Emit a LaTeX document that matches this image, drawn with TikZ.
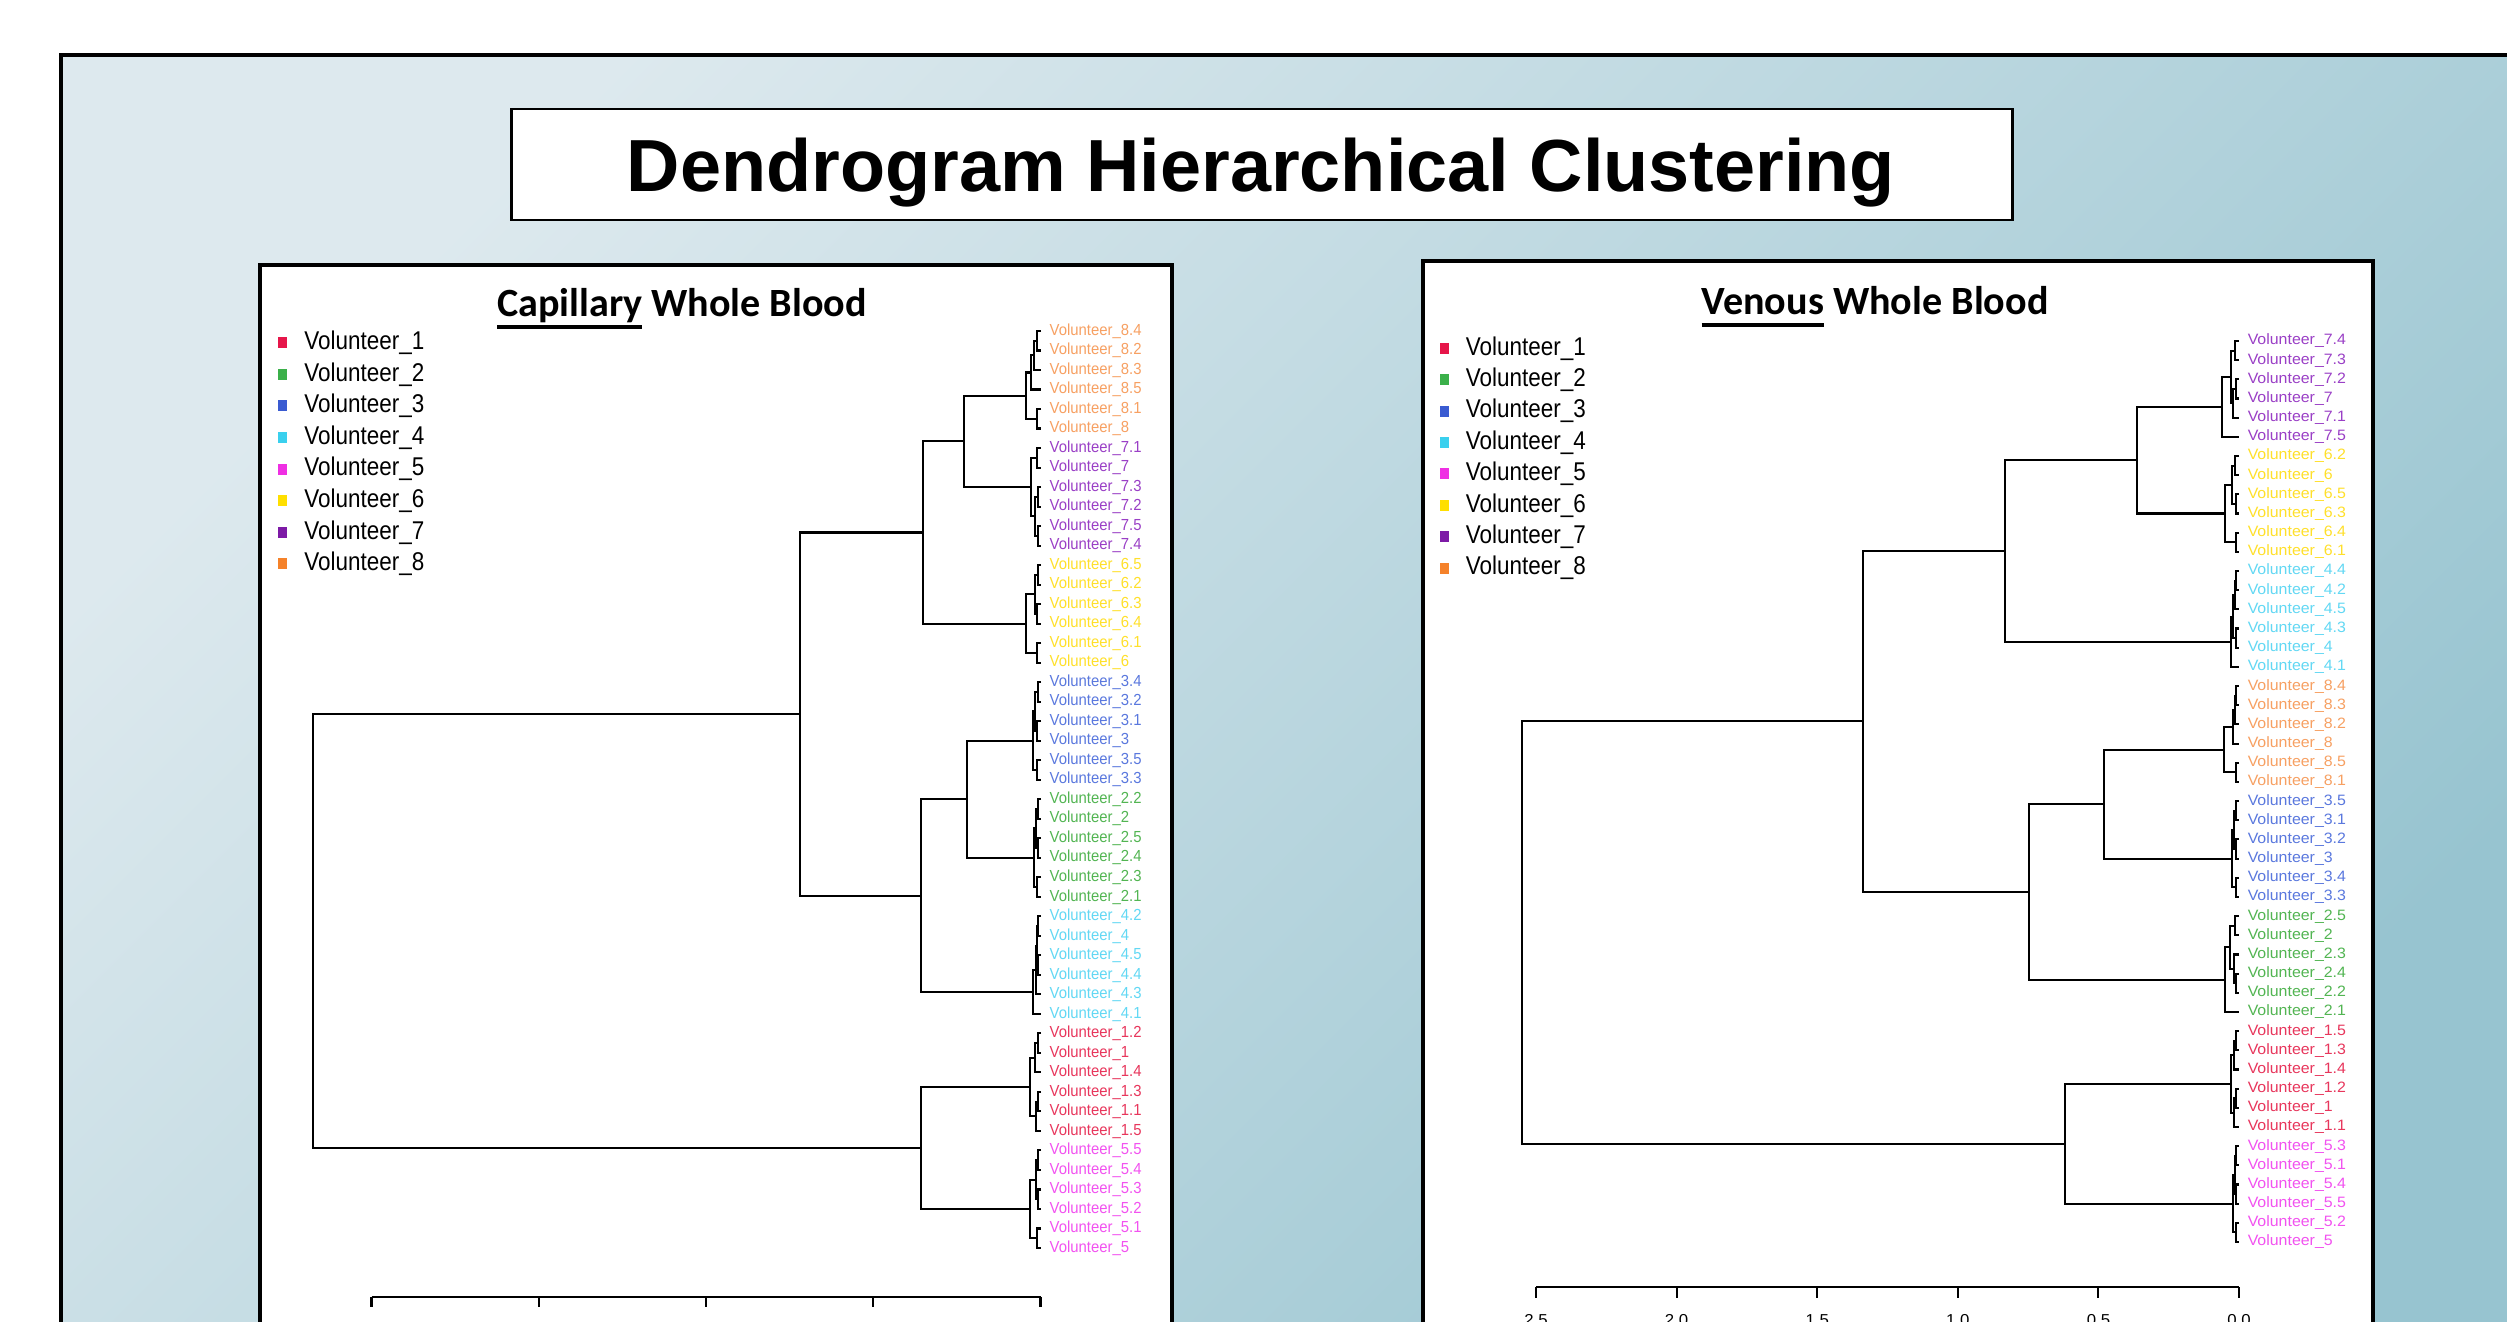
\documentclass[tikz,border=0pt]{standalone}
\usepackage{fontspec}
\setmainfont{Liberation Sans}
\newfontfamily\calibri{Carlito}
\newfontfamily\keyfont[FakeStretch=0.875]{Liberation Sans}
\newfontfamily\capfont[FakeStretch=0.93]{Liberation Sans}
\newfontfamily\venfont[FakeStretch=1.06]{Liberation Sans}
\usetikzlibrary{calc,positioning}

\definecolor{bgtop}{HTML}{DDE9EE}
\definecolor{bgbot}{HTML}{97C4D0}
\definecolor{vol1}{HTML}{E6164A}
\definecolor{vol2}{HTML}{3BB04A}
\definecolor{vol3}{HTML}{3A5BD1}
\definecolor{vol4}{HTML}{3AD0EE}
\definecolor{vol5}{HTML}{EF2FE3}
\definecolor{vol6}{HTML}{FFDF00}
\definecolor{vol7}{HTML}{7D1AA6}
\definecolor{vol8}{HTML}{F5822A}
\definecolor{lab1}{HTML}{E8365C}
\definecolor{lab2}{HTML}{52B552}
\definecolor{lab3}{HTML}{5A78DE}
\definecolor{lab4}{HTML}{62D8F4}
\definecolor{lab5}{HTML}{F252F0}
\definecolor{lab6}{HTML}{FFE02A}
\definecolor{lab7}{HTML}{9A3FC6}
\definecolor{lab8}{HTML}{F7A062}

\newsavebox\ubox
\newcommand{\uword}[1]{\sbox\ubox{#1}\rlap{\rule[-0.29em]{\wd\ubox}{0.09em}}\usebox\ubox}

% one dendrogram join: name, x of the join, upper child, lower child
\newcommand{\merge}[4]{%
  \coordinate (#1m) at ($(#3)!.5!(#4)$);
  \coordinate (#1) at (#2,0 |- #1m);
  \draw[branch] (#3) -| (#1) |- (#4);}

\tikzset{
  branch/.style={line width=0.6pt},
  panel/.style={draw, line width=0.9pt, fill=white},
  keybox/.style={fill=#1, minimum width=0.09cm, minimum height=0.11cm, inner sep=0pt},
  keytext/.style={anchor=west, inner sep=0pt, font=\keyfont\fontsize{7.3}{8}\selectfont},
  capleaf/.style={anchor=west, inner sep=0pt, font=\capfont\fontsize{4.55}{5}\selectfont},
  venleaf/.style={anchor=west, inner sep=0pt, font=\venfont\fontsize{4.27}{5}\selectfont},
}

\begin{document}
\begin{tikzpicture}[x=0.01cm, y=-0.01cm]
\useasboundingbox (0,0) rectangle (2507,1322);
\draw[line width=0.9pt, top color=bgtop, bottom color=bgbot, shading angle=45] (61,55) rectangle (2540,1360);

\node[draw, line width=0.8pt, fill=white, minimum width=15cm, minimum height=1.11cm, inner sep=0pt] (titlebox) at (1262,164.5) {};
\node[anchor=base, inner sep=0pt, font=\bfseries\fontsize{21}{25}\selectfont] (maintitle) at (1261,192) {Dendrogram Hierarchical Clustering};

\draw[panel] (260,265) rectangle (1172,1400);
\draw[panel] (1423,261) rectangle (2373,1400);

\node[anchor=base, inner sep=0pt, font=\calibri\bfseries\fontsize{11.4}{13}\selectfont] (captitle) at (682,317) {\uword{Capillary} Whole Blood};
\node[anchor=base, inner sep=0pt, font=\calibri\bfseries\fontsize{11.4}{13}\selectfont] (ventitle) at (1875,315) {\uword{Venous} Whole Blood};

% legends
\foreach \k in {1,...,8}
{
    \node[keybox=vol\k] (CK\k) at (282,{342.7+31.6*(\k-1)}) {};
    \node[keytext, right=0.165cm of CK\k] (CKT\k) {Volunteer\_\k};
    \node[keybox=vol\k] (VK\k) at (1444,{348.3+31.4*(\k-1)}) {};
    \node[keytext, right=0.16cm of VK\k] (VKT\k) {Volunteer\_\k};
}

% capillary leaves
\foreach \lab/\col [count=\i from 0] in {8.4/lab8,8.2/lab8,8.3/lab8,8.5/lab8,8.1/lab8,8/lab8,7.1/lab7,7/lab7,7.3/lab7,7.2/lab7,7.5/lab7,7.4/lab7,6.5/lab6,6.2/lab6,6.3/lab6,6.4/lab6,6.1/lab6,6/lab6,3.4/lab3,3.2/lab3,3.1/lab3,3/lab3,3.5/lab3,3.3/lab3,2.2/lab2,2/lab2,2.5/lab2,2.4/lab2,2.3/lab2,2.1/lab2,4.2/lab4,4/lab4,4.5/lab4,4.4/lab4,4.3/lab4,4.1/lab4,1.2/lab1,1/lab1,1.4/lab1,1.3/lab1,1.1/lab1,1.5/lab1,5.5/lab5,5.4/lab5,5.3/lab5,5.2/lab5,5.1/lab5,5/lab5}
{
    \coordinate (C\i) at (1041,{331+19.51*\i});
    \node[capleaf, text=\col, right=0.08cm of C\i] (CL\i) {Volunteer\_\lab};
}

% venous leaves
\foreach \lab/\col [count=\i from 0] in {7.4/lab7,7.3/lab7,7.2/lab7,7/lab7,7.1/lab7,7.5/lab7,6.2/lab6,6/lab6,6.5/lab6,6.3/lab6,6.4/lab6,6.1/lab6,4.4/lab4,4.2/lab4,4.5/lab4,4.3/lab4,4/lab4,4.1/lab4,8.4/lab8,8.3/lab8,8.2/lab8,8/lab8,8.5/lab8,8.1/lab8,3.5/lab3,3.1/lab3,3.2/lab3,3/lab3,3.4/lab3,3.3/lab3,2.5/lab2,2/lab2,2.3/lab2,2.4/lab2,2.2/lab2,2.1/lab2,1.5/lab1,1.3/lab1,1.4/lab1,1.2/lab1,1/lab1,1.1/lab1,5.3/lab5,5.1/lab5,5.4/lab5,5.5/lab5,5.2/lab5,5/lab5}
{
    \coordinate (V\i) at (2239,{341+19.17*\i});
    \node[venleaf, text=\col, right=0.08cm of V\i] (VL\i) {Volunteer\_\lab};
}

% capillary tree
\merge{Cp1}{1037}{C0}{C1}
\merge{Cp2}{1034}{Cp1}{C2}
\merge{Cp3}{1031}{Cp2}{C3}
\merge{Cp4}{1037}{C4}{C5}
\merge{Cg8}{1026}{Cp3}{Cp4}
\merge{Cq1}{1037}{C6}{C7}
\merge{Cq2}{1038}{C8}{C9}
\merge{Cq3}{1038}{C10}{C11}
\merge{Cq4}{1035}{Cq2}{Cq3}
\merge{Cg7}{1031}{Cq1}{Cq4}
\merge{Cg87}{964}{Cg8}{Cg7}
\merge{Cr1}{1038}{C12}{C13}
\merge{Cr2}{1037}{C14}{C15}
\merge{Cr3}{1035}{Cr1}{Cr2}
\merge{Cr4}{1037}{C16}{C17}
\merge{Cg6}{1026}{Cr3}{Cr4}
\merge{Cg876}{923}{Cg87}{Cg6}
\merge{Cs1}{1038}{C18}{C19}
\merge{Cs2}{1037}{C20}{C21}
\merge{Cs3}{1035}{Cs1}{Cs2}
\merge{Cs4}{1037}{C22}{C23}
\merge{Cg3}{1033}{Cs3}{Cs4}
\merge{Ct1}{1038}{C24}{C25}
\merge{Ct2}{1038}{C26}{C27}
\merge{Ct3}{1036}{Ct1}{Ct2}
\merge{Ct4}{1037}{C28}{C29}
\merge{Cg2}{1034}{Ct3}{Ct4}
\merge{Cg32}{967}{Cg3}{Cg2}
\merge{Cu1}{1038}{C30}{C31}
\merge{Cu2}{1038}{C32}{C33}
\merge{Cu3}{1037}{Cu1}{Cu2}
\merge{Cu4}{1036}{Cu3}{C34}
\merge{Cg4}{1033}{Cu4}{C35}
\merge{Cg324}{921}{Cg32}{Cg4}
\merge{Ctop}{800}{Cg876}{Cg324}
\merge{Cv1}{1038}{C36}{C37}
\merge{Cv2}{1035}{Cv1}{C38}
\merge{Cv3}{1038}{C39}{C40}
\merge{Cv4}{1036}{Cv3}{C41}
\merge{Cg1}{1030}{Cv2}{Cv4}
\merge{Cw1}{1038}{C42}{C43}
\merge{Cw2}{1038}{C44}{C45}
\merge{Cw3}{1036}{Cw1}{Cw2}
\merge{Cw4}{1037}{C46}{C47}
\merge{Cg5}{1030}{Cw3}{Cw4}
\merge{Cg15}{921}{Cg1}{Cg5}
\merge{Croot}{313}{Ctop}{Cg15}

% venous tree
\merge{Va1}{2235}{V0}{V1}
\merge{Va2}{2236}{V2}{V3}
\merge{Va3}{2233}{Va2}{V4}
\merge{Va4}{2231}{Va1}{Va3}
\merge{Vg7}{2222}{Va4}{V5}
\merge{Vb1}{2235}{V6}{V7}
\merge{Vb2}{2236}{V8}{V9}
\merge{Vb3}{2232}{Vb1}{Vb2}
\merge{Vb4}{2236}{V10}{V11}
\merge{Vg6}{2225}{Vb3}{Vb4}
\merge{Vg76}{2137}{Vg7}{Vg6}
\merge{Vc1}{2236}{V12}{V13}
\merge{Vc2}{2235}{Vc1}{V14}
\merge{Vc3}{2236}{V15}{V16}
\merge{Vc4}{2233}{Vc2}{Vc3}
\merge{Vg4}{2231}{Vc4}{V17}
\merge{Vg764}{2005}{Vg76}{Vg4}
\merge{Vd1}{2236}{V18}{V19}
\merge{Vd2}{2235}{Vd1}{V20}
\merge{Vd3}{2233}{Vd2}{V21}
\merge{Vd4}{2236}{V22}{V23}
\merge{Vg8}{2224}{Vd3}{Vd4}
\merge{Ve1}{2236}{V24}{V25}
\merge{Ve2}{2236}{V26}{V27}
\merge{Ve3}{2234}{Ve1}{Ve2}
\merge{Ve4}{2236}{V28}{V29}
\merge{Vg3}{2232}{Ve3}{Ve4}
\merge{Vg83}{2104}{Vg8}{Vg3}
\merge{Vf1}{2235}{V30}{V31}
\merge{Vf2}{2236}{V33}{V34}
\merge{Vf3}{2234}{V32}{Vf2}
\merge{Vf4}{2230}{Vf1}{Vf3}
\merge{Vg2}{2225}{Vf4}{V35}
\merge{Vg832}{2029}{Vg83}{Vg2}
\merge{Vtop}{1863}{Vg764}{Vg832}
\merge{Vh1}{2236}{V36}{V37}
\merge{Vh2}{2234}{Vh1}{V38}
\merge{Vh3}{2236}{V39}{V40}
\merge{Vh4}{2234}{Vh3}{V41}
\merge{Vg1}{2231}{Vh2}{Vh4}
\merge{Vk1}{2236}{V42}{V43}
\merge{Vk2}{2236}{V44}{V45}
\merge{Vk3}{2235}{Vk1}{Vk2}
\merge{Vk4}{2236}{V46}{V47}
\merge{Vg5}{2233}{Vk3}{Vk4}
\merge{Vg15}{2065}{Vg1}{Vg5}
\merge{Vroot}{1522}{Vtop}{Vg15}

% axes
\draw[branch] (371.5,1297) -- (1040.5,1297);
\foreach \x in {371.5,538.8,706,873.3,1040.5}
{
    \draw[branch] (\x,1297) -- (\x,1307);
}
\draw[branch] (1536,1287) -- (2239,1287);
\foreach \x/\t [count=\n] in {1536/2.5,1676.6/2.0,1817.2/1.5,1957.8/1.0,2098.4/0.5,2239/0.0}
{
    \draw[branch] (\x,1287) -- (\x,1298);
    \node[anchor=north, inner sep=0pt, font=\venfont\fontsize{4.5}{5}\selectfont] (VA\n) at (\x,1314) {\t};
}
\end{tikzpicture}
\end{document}
